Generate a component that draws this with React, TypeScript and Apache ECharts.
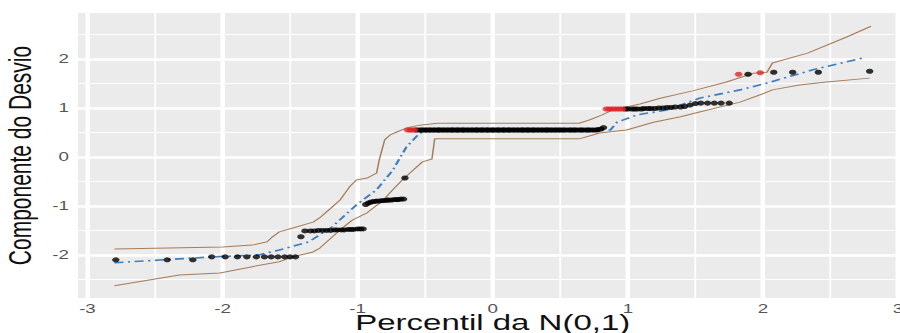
import React, { useEffect, useRef } from "react";
import * as echarts from "echarts";

// Axis ticks / grid positions
const xMajor = [-3, -2, -1, 0, 1, 2, 3];
const xMinor = [-2.5, -1.5, -0.5, 0.5, 1.5, 2.5];
const yMajor = [-2, -1, 0, 1, 2];
const yMinor = [-2.5, -1.5, -0.5, 0.5, 1.5, 2.5];

// Observed points (theoretical quantile, deviance component)
const blackPoints: [number, number][] = [
  [-2.79, -2.1], [-2.41, -2.1], [-2.22, -2.1],
  [-2.08, -2.04], [-1.98, -2.04], [-1.89, -2.04], [-1.82, -2.04], [-1.75, -2.04], [-1.69, -2.04],
  [-1.64, -2.04], [-1.59, -2.04], [-1.54, -2.04], [-1.5, -2.04], [-1.46, -2.04],
  [-1.42, -1.63],
  [-1.39, -1.51], [-1.35, -1.51], [-1.32, -1.51], [-1.29, -1.5], [-1.26, -1.5], [-1.23, -1.5],
  [-1.2, -1.5], [-1.17, -1.49], [-1.15, -1.49], [-1.12, -1.49], [-1.1, -1.49], [-1.07, -1.48],
  [-1.05, -1.48], [-1.03, -1.48], [-1.0, -1.47], [-0.98, -1.47], [-0.96, -1.47],
  [-0.94, -0.97], [-0.92, -0.94], [-0.9, -0.92], [-0.88, -0.91], [-0.86, -0.9], [-0.84, -0.9],
  [-0.82, -0.89], [-0.8, -0.89], [-0.78, -0.88], [-0.77, -0.88], [-0.75, -0.88], [-0.73, -0.87],
  [-0.71, -0.87], [-0.7, -0.87], [-0.68, -0.86], [-0.66, -0.86],
  [-0.65, -0.43],
  [-0.57, 0.55], [-0.55, 0.55], [-0.53, 0.55], [-0.52, 0.55], [-0.5, 0.55], [-0.49, 0.55],
  [-0.47, 0.55], [-0.46, 0.55], [-0.44, 0.55], [-0.43, 0.55], [-0.41, 0.55], [-0.4, 0.55],
  [-0.39, 0.55], [-0.37, 0.55], [-0.36, 0.55], [-0.34, 0.55], [-0.33, 0.55], [-0.31, 0.55],
  [-0.3, 0.55], [-0.29, 0.55], [-0.27, 0.55], [-0.26, 0.55], [-0.25, 0.55], [-0.23, 0.55],
  [-0.22, 0.55], [-0.21, 0.55], [-0.19, 0.55], [-0.18, 0.55], [-0.16, 0.55], [-0.15, 0.55],
  [-0.13, 0.55], [-0.12, 0.55], [-0.11, 0.55], [-0.09, 0.55], [-0.08, 0.55], [-0.07, 0.55],
  [-0.05, 0.55], [-0.04, 0.55], [-0.03, 0.55], [-0.01, 0.55], [0.0, 0.55], [0.01, 0.55],
  [0.03, 0.55], [0.04, 0.55], [0.05, 0.55], [0.07, 0.55], [0.08, 0.55], [0.09, 0.55],
  [0.11, 0.55], [0.12, 0.55], [0.13, 0.55], [0.15, 0.55], [0.16, 0.55], [0.18, 0.55],
  [0.19, 0.55], [0.21, 0.55], [0.22, 0.55], [0.23, 0.55], [0.25, 0.55], [0.26, 0.55],
  [0.27, 0.55], [0.29, 0.55], [0.3, 0.55], [0.31, 0.55], [0.33, 0.55], [0.34, 0.55],
  [0.36, 0.55], [0.37, 0.55], [0.39, 0.55], [0.4, 0.55], [0.41, 0.55], [0.43, 0.55],
  [0.44, 0.55], [0.46, 0.55], [0.47, 0.55], [0.49, 0.55], [0.5, 0.55], [0.52, 0.55],
  [0.53, 0.55], [0.55, 0.55], [0.57, 0.55], [0.58, 0.55], [0.6, 0.55], [0.61, 0.55],
  [0.63, 0.55], [0.65, 0.55], [0.66, 0.55], [0.68, 0.55], [0.7, 0.55], [0.71, 0.55],
  [0.73, 0.55], [0.75, 0.55], [0.77, 0.55], [0.78, 0.56], [0.8, 0.57], [0.82, 0.6],
  [0.98, 0.98], [1.0, 0.98], [1.03, 0.98], [1.05, 0.98], [1.07, 0.98], [1.1, 0.98],
  [1.12, 0.99], [1.15, 0.99], [1.17, 0.99], [1.2, 0.99], [1.23, 1.0], [1.26, 1.0],
  [1.29, 1.01], [1.32, 1.01], [1.35, 1.02], [1.39, 1.02], [1.42, 1.03], [1.46, 1.06],
  [1.5, 1.09], [1.54, 1.1], [1.59, 1.1], [1.64, 1.1], [1.69, 1.1], [1.75, 1.1],
  [1.89, 1.69], [2.08, 1.73], [2.22, 1.73], [2.41, 1.73], [2.79, 1.75],
];

const redPoints: [number, number][] = [
  [-0.63, 0.55], [-0.61, 0.55], [-0.6, 0.55], [-0.58, 0.55],
  [0.84, 0.98], [0.86, 0.98], [0.88, 0.98], [0.9, 0.98], [0.92, 0.98], [0.94, 0.98], [0.96, 0.98],
  [1.82, 1.69], [1.98, 1.72],
];

// Simulated envelope bounds and median
const upperEnvelope: [number, number][] = [
  [-2.8, -1.88], [-2.4, -1.86], [-2.0, -1.84], [-1.78, -1.8], [-1.67, -1.73], [-1.63, -1.63],
  [-1.58, -1.53], [-1.48, -1.45], [-1.33, -1.33], [-1.28, -1.24], [-1.2, -1.05], [-1.13, -0.88],
  [-1.06, -0.61], [-1.01, -0.47], [-0.93, -0.43], [-0.86, -0.33], [-0.84, -0.06], [-0.8, 0.35],
  [-0.76, 0.45], [-0.71, 0.51], [-0.64, 0.59], [-0.54, 0.65], [-0.41, 0.69], [0.64, 0.69],
  [0.72, 0.76], [0.81, 0.86], [0.89, 0.96], [0.99, 1.02], [1.09, 1.08], [1.24, 1.2],
  [1.48, 1.35], [1.73, 1.53], [1.93, 1.71], [2.03, 1.73], [2.07, 1.92], [2.33, 2.12],
  [2.62, 2.45], [2.8, 2.67],
];

const lowerEnvelope: [number, number][] = [
  [-2.8, -2.63], [-2.32, -2.41], [-2.02, -2.37], [-1.78, -2.24], [-1.58, -2.14], [-1.48, -2.04],
  [-1.33, -1.94], [-1.28, -1.86], [-1.13, -1.49], [-1.04, -1.29], [-0.93, -1.14], [-0.81, -0.88],
  [-0.74, -0.67], [-0.67, -0.47], [-0.59, -0.27], [-0.52, -0.1], [-0.45, -0.04], [-0.43, 0.37],
  [0.64, 0.37], [0.74, 0.45], [0.79, 0.49], [0.99, 0.55], [1.19, 0.71], [1.39, 0.82],
  [1.53, 0.92], [1.83, 1.12], [1.98, 1.27], [2.07, 1.37], [2.27, 1.47], [2.47, 1.53],
  [2.79, 1.61],
];

const medianLine: [number, number][] = [
  [-2.8, -2.16], [-2.07, -2.04], [-1.73, -2.0], [-1.58, -1.9], [-1.36, -1.73], [-1.19, -1.43],
  [-1.01, -0.98], [-0.86, -0.67], [-0.74, -0.27], [-0.64, 0.2], [-0.54, 0.49], [-0.47, 0.53],
  [0.87, 0.55], [0.92, 0.71], [1.07, 0.86], [1.29, 0.96], [1.53, 1.2], [1.83, 1.37],
  [2.03, 1.51], [2.18, 1.63], [2.37, 1.78], [2.74, 2.02],
];

const FONT = "'Liberation Sans', Arial, sans-serif";
const STRETCH = 1.5;

export default function App() {
  const ref = useRef<HTMLDivElement>(null);

  useEffect(() => {
    document.body.style.margin = "0";
    if (!ref.current) return;
    const chart = echarts.init(ref.current, undefined, { renderer: "svg" });

    const gridLines = [
      ...xMajor.map((v) => ({ xAxis: v, lineStyle: { width: 3, color: "#ffffff", type: "solid" } })),
      ...xMinor.map((v) => ({ xAxis: v, lineStyle: { width: 1.2, color: "#ffffff", type: "solid" } })),
      ...yMajor.map((v) => ({ yAxis: v, lineStyle: { width: 2.6, color: "#ffffff", type: "solid" } })),
      ...yMinor.map((v) => ({ yAxis: v, lineStyle: { width: 1.1, color: "#ffffff", type: "solid" } })),
    ];

    chart.setOption({
      animation: false,
      grid: {
        left: 52,
        right: -5,
        top: 13,
        bottom: 35,
        show: true,
        backgroundColor: "#EBEBEB",
        borderWidth: 0,
        containLabel: false,
        outerBoundsMode: "none",
      },
      xAxis: {
        type: "value",
        min: -3.07,
        max: 3.07,
        name: "Percentil da N(0,1)",
        nameLocation: "middle",
        nameGap: 16,
        nameMoveOverlap: false,
        nameTextStyle: { fontSize: 22, lineHeight: 18, color: "#111", fontFamily: FONT },
        axisLine: { show: false },
        axisTick: { show: true, customValues: xMajor, length: 3, lineStyle: { color: "#444", width: 1 } },
        axisLabel: {
          customValues: xMajor,
          fontSize: 12.5,
          lineHeight: 11,
          color: "#555",
          margin: 5,
          fontFamily: FONT,
        },
        splitLine: { show: false },
      },
      yAxis: {
        type: "value",
        min: -2.88,
        max: 2.94,
        name: "Componente do Desvio",
        nameLocation: "middle",
        nameRotate: 90,
        nameGap: 28,
        nameMoveOverlap: false,
        nameTextStyle: { fontSize: 21, color: "#111", fontFamily: FONT },
        axisLine: { show: false },
        axisTick: { show: true, customValues: yMajor, length: 3, lineStyle: { color: "#444", width: 1 } },
        axisLabel: { customValues: yMajor, fontSize: 12.5, color: "#555", margin: 6, fontFamily: FONT },
        splitLine: { show: false },
      },
      series: [
        {
          type: "line",
          data: [],
          silent: true,
          markLine: {
            silent: true,
            symbol: ["none", "none"],
            label: { show: false },
            z: 1,
            animation: false,
            data: gridLines,
          },
        },
        {
          type: "line",
          data: upperEnvelope,
          showSymbol: false,
          silent: true,
          z: 3,
          lineStyle: { color: "#A57D58", width: 1 },
        },
        {
          type: "line",
          data: lowerEnvelope,
          showSymbol: false,
          silent: true,
          z: 3,
          lineStyle: { color: "#A57D58", width: 1 },
        },
        {
          type: "line",
          data: medianLine,
          showSymbol: false,
          silent: true,
          z: 4,
          lineStyle: { color: "#3F7FBF", width: 1.6, type: [6, 3, 1.5, 3] },
        },
        {
          type: "scatter",
          data: blackPoints,
          symbolSize: 5,
          silent: true,
          z: 5,
          itemStyle: { color: "#000000" },
        },
        {
          type: "scatter",
          data: redPoints,
          symbolSize: 5,
          silent: true,
          z: 6,
          itemStyle: { color: "#E0262A" },
        },
      ],
    });

    return () => {
      chart.dispose();
    };
  }, []);

  return (
    <div style={{ width: 900, height: 333, overflow: "hidden", position: "relative", background: "#fff" }}>
      <div
        ref={ref}
        style={{
          width: 900 / STRETCH,
          height: 333,
          transform: `scaleX(${STRETCH})`,
          transformOrigin: "0 0",
        }}
      />
    </div>
  );
}
